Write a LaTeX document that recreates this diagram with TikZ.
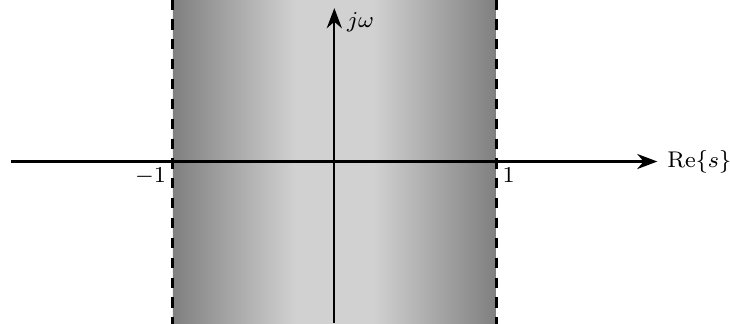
\documentclass[tikz,border=0pt]{standalone}
\usepackage{amsmath,amssymb}
\usepackage{xcolor}
\usepackage{tikz}
\usetikzlibrary{arrows.meta,positioning}

\pgfdeclarehorizontalshading{stripshade}{100bp}{color(0bp)=(gray); color(25bp)=(gray); color(44bp)=(gray!36); color(56bp)=(gray!36); color(75bp)=(gray); color(100bp)=(gray)}

\begin{document}
\begin{tikzpicture}[
  strip/.style={rectangle, minimum width=4cm, minimum height=4cm, inner sep=0pt, shading=stripshade},
  bound/.style={line width=1.1pt, dash pattern=on 3.6pt off 3.4pt},
  axis/.style={-{Stealth[length=2.5mm]}, thick},
  lbl/.style={font=\fontsize{8.5}{10}\selectfont},
]
\useasboundingbox (-4.14,-2) rectangle (4.9,2);

\node[strip] (region) at (0,0) {};

\coordinate (xmin) at (-4,0);
\coordinate (xmax) at (4,0);
\coordinate (ymin) at (0,-2);
\coordinate (ymax) at (0,1.9);

\draw[bound] (region.north west) -- (region.south west);
\draw[bound] (region.north east) -- (region.south east);

\draw[axis] (xmin) -- (xmax);
\draw[axis] (ymin) -- (ymax);

\node[lbl, right] (relabel) at (xmax) {$\mathrm{Re}\{s\}$};
\node[lbl, anchor=north west, xshift=1pt, yshift=2pt] (jwlabel) at (ymax) {$j\omega$};
\node[lbl, below left, inner sep=2pt] (mone) at (region.west) {$-1$};
\node[lbl, below right, inner sep=2pt] (one) at (region.east) {$1$};

\end{tikzpicture}
\end{document}
